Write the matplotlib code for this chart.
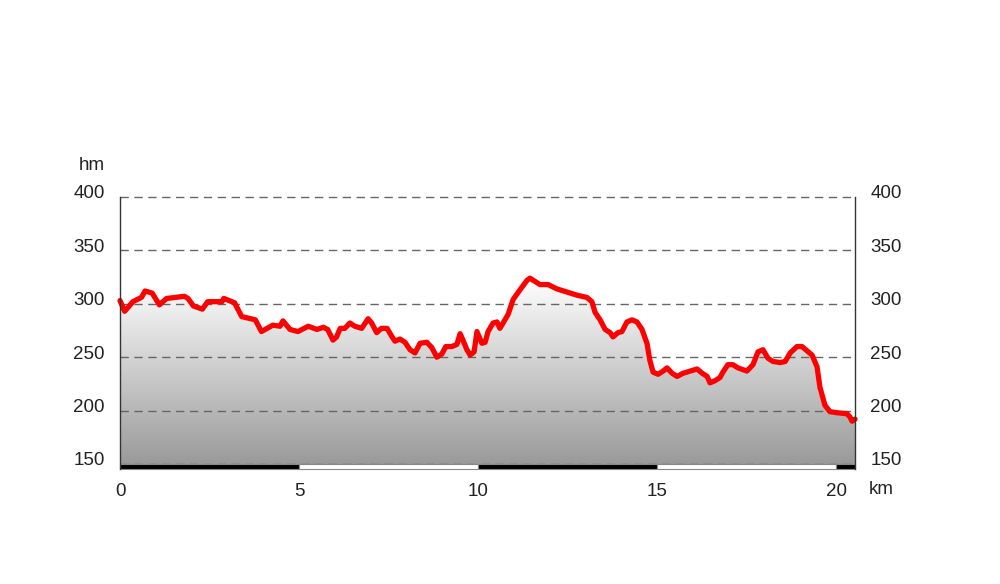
import numpy as np
import matplotlib
matplotlib.use("Agg")
from matplotlib import pyplot as plt
from matplotlib import transforms
from matplotlib.colors import LinearSegmentedColormap
from matplotlib.patches import Rectangle

# elevation profile, km along route vs altitude (m)
km = [0.0, 0.13, 0.36, 0.6, 0.7, 0.9, 1.1, 1.3, 1.8, 1.9, 2.05, 2.3, 2.45,
      2.85, 2.9, 3.2, 3.4, 3.78, 3.95, 4.27, 4.47, 4.55, 4.75, 4.97,
      5.26, 5.5, 5.68, 5.8, 5.95, 6.05, 6.15, 6.28, 6.42, 6.56, 6.75, 6.93,
      7.03, 7.17, 7.3, 7.46, 7.6, 7.68, 7.82, 7.96, 8.1, 8.24, 8.38, 8.57,
      8.71, 8.85, 8.99, 9.1, 9.27, 9.41, 9.5, 9.58, 9.69, 9.78, 9.89, 9.97,
      10.11, 10.2, 10.28, 10.42, 10.53, 10.61, 10.7, 10.84, 10.98, 11.17,
      11.37, 11.45, 11.59, 11.73, 11.96, 12.2, 12.48, 12.77, 13.04, 13.18,
      13.27, 13.41, 13.55, 13.69, 13.77, 13.91, 14.02, 14.16, 14.3, 14.44,
      14.58, 14.72, 14.8, 14.89, 15.03, 15.17, 15.28, 15.42, 15.56, 15.73,
      15.92, 16.12, 16.26, 16.4, 16.48, 16.62, 16.76, 16.84, 16.98, 17.12,
      17.26, 17.51, 17.68, 17.82, 17.96, 18.1, 18.24, 18.44, 18.58, 18.72,
      18.91, 19.05, 19.19, 19.33, 19.47, 19.55, 19.69, 19.83, 20.03, 20.31,
      20.39, 20.45, 20.53]
alt = [303, 293, 302, 306, 312, 310, 299, 305, 307, 305, 298, 295, 302,
       302, 305, 301, 288, 285, 274, 280, 279, 284, 276, 274,
       279, 276, 278, 276, 266, 269, 277, 277, 282, 279, 277, 286,
       282, 273, 277, 277, 269, 265, 267, 264, 257, 254, 263, 264,
       259, 250, 253, 260, 260, 262, 272, 266, 257, 252, 255, 274,
       263, 264, 274, 282, 283, 277, 282, 290, 304, 313,
       322, 324, 321, 318, 318, 314, 311, 308, 306, 302,
       292, 285, 276, 273, 269, 273, 274, 283, 285, 283,
       276, 263, 247, 236, 234, 237, 240, 235, 232, 235,
       237, 239, 235, 232, 226, 228, 231, 236, 243, 243,
       240, 237, 243, 255, 257, 249, 246, 245, 246, 254,
       260, 260, 256, 252, 241, 222, 205, 199, 198, 197,
       194, 190, 192]

yticks = [150, 200, 250, 300, 350, 400]
xticks = [0, 5, 10, 15, 20]
km_end = 20.53

txt = '#222222'
fs = 13.5
plt.rcParams['font.family'] = ['Liberation Sans', 'DejaVu Sans']

fig = plt.figure(figsize=(10, 5.84), dpi=100)
ax = fig.add_axes([0.12, 1 - 464 / 584, 0.735, 267 / 584])
ax.set_xlim(0, km_end)
ax.set_ylim(150, 400)

# gradient fill under the profile
cmap = LinearSegmentedColormap.from_list('g', ['#9a9a9a', '#ffffff'])
grad = np.linspace(0, 1, 256).reshape(-1, 1)
im = ax.imshow(grad, extent=[0, km_end, 150, 325], origin='lower', aspect='auto',
               cmap=cmap, zorder=1)
poly = ax.fill_between(km, alt, 150, color='none', lw=0, zorder=1)
im.set_clip_path(poly.get_paths()[0], transform=ax.transData)

ax.plot(km, alt, color='#ff0000', lw=3.8, solid_joinstyle='round',
        solid_capstyle='round', zorder=4, clip_on=False)

for y in yticks:
    ax.axhline(y, color='#666666', lw=1, ls=(0, (6, 4)), zorder=2, clip_on=False)

# distance strip under the axis
for i, x0 in enumerate(xticks):
    x1 = min(x0 + 5, km_end)
    c = '#000000' if i % 2 == 0 else '#ffffff'
    ax.add_patch(Rectangle((x0, -0.019), x1 - x0, 0.019, transform=ax.get_xaxis_transform(),
                           facecolor=c, edgecolor='#888888', lw=0.8, clip_on=False, zorder=3))

for s in ['top', 'bottom']:
    ax.spines[s].set_visible(False)
for s in ['left', 'right']:
    ax.spines[s].set_color('#333333')
    ax.spines[s].set_linewidth(1)
    ax.spines[s].set_bounds(150 - 5 / 1.067, 400)
    ax.spines[s].set_zorder(5)

ax.set_yticks(yticks)
ax.set_xticks(xticks)
ax.tick_params(axis='both', length=0, labelsize=fs, labelcolor=txt)
ax.tick_params(axis='y', pad=11, labelright=True, labelleft=True)
ax.tick_params(axis='x', pad=14)
up = transforms.ScaledTranslation(0, 5 / 100, fig.dpi_scale_trans)
for t in ax.yaxis.get_major_ticks():
    t.label1.set_transform(t.label1.get_transform() + up)
    t.label2.set_transform(t.label2.get_transform() + up)

fig.text(92 / 1000, 1 - 165 / 584, 'hm', ha='center', va='center', fontsize=fs, color=txt)
fig.text(881 / 1000, 1 - 490 / 584, 'km', ha='center', va='center', fontsize=fs, color=txt)

fig.savefig('out.png', dpi=100)
